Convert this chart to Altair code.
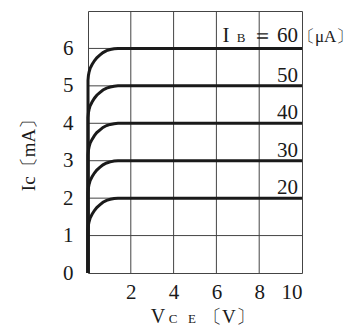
import altair as alt
import pandas as pd

# Curve shape: shared x samples (V_CE) and Ic values per base current
vce = [0, 0, 0.02, 0.05, 0.1, 0.19, 0.3, 0.41, 0.55, 0.7, 0.87, 1.04, 1.22, 1.4, 10]
ic_60 = [0, 5.15, 5.28, 5.37, 5.47, 5.57, 5.67, 5.75, 5.82, 5.89, 5.94, 5.97, 5.99, 6.0, 6.0]
ic_50 = [0, 4.15, 4.28, 4.37, 4.47, 4.57, 4.67, 4.75, 4.82, 4.89, 4.94, 4.97, 4.99, 5.0, 5.0]
ic_40 = [0, 3.15, 3.28, 3.37, 3.47, 3.57, 3.67, 3.75, 3.82, 3.89, 3.94, 3.97, 3.99, 4.0, 4.0]
ic_30 = [0, 2.15, 2.28, 2.37, 2.47, 2.57, 2.67, 2.75, 2.82, 2.89, 2.94, 2.97, 2.99, 3.0, 3.0]
ic_20 = [0, 1.15, 1.28, 1.37, 1.47, 1.57, 1.67, 1.75, 1.82, 1.89, 1.94, 1.97, 1.99, 2.0, 2.0]

ib_values = [60, 50, 40, 30, 20]
ib_levels = [6, 5, 4, 3, 2]
x_ticks = [0, 2, 4, 6, 8, 10]
y_ticks = [0, 1, 2, 3, 4, 5, 6, 7]

rows = []
for ib, ys in zip(ib_values, [ic_60, ic_50, ic_40, ic_30, ic_20]):
    for i, (x, y) in enumerate(zip(vce, ys)):
        rows.append({"ib": ib, "i": i, "vce": x, "ic": y})
curves_df = pd.DataFrame(rows)

SERIF = "Liberation Serif"
INK = "#1a1a1a"
GRID = "#444444"

xscale = alt.Scale(domain=[0, 10], nice=False)
yscale = alt.Scale(domain=[0, 7], nice=False)

x_axis = alt.Axis(values=x_ticks, title=None, grid=False,
                  domain=False, ticks=False, labelFont=SERIF, labelFontSize=21,
                  labelColor=INK, labelPadding=8, labelOverlap=False,
                  labelExpr="datum.value == 0 ? '' : datum.label")
y_axis = alt.Axis(values=y_ticks, title="Ic〔mA〕", grid=False,
                  domain=False, ticks=False, labelFont=SERIF, labelFontSize=21,
                  labelColor=INK, labelPadding=15, labelOverlap=False,
                  labelExpr="datum.value == 7 ? '' : datum.label",
                  titleFont=SERIF, titleFontSize=19, titleFontWeight="normal",
                  titleColor=INK, titleAngle=-90, titleX=-60, titleY=139,
                  titleAlign="center", titleBaseline="middle")

# grid rules (first layer carries the axes)
vgrid = alt.Chart(pd.DataFrame({"x": x_ticks[1:-1]})).mark_rule(color=GRID, strokeWidth=1).encode(
    x=alt.X("x:Q", scale=xscale, axis=x_axis))
hgrid = alt.Chart(pd.DataFrame({"y": y_ticks[1:-1]})).mark_rule(color=GRID, strokeWidth=1).encode(
    y=alt.Y("y:Q", scale=yscale, axis=y_axis))

curves = alt.Chart(curves_df).mark_line(color=INK, strokeWidth=3).encode(
    x=alt.X("vce:Q", scale=xscale, axis=x_axis),
    y=alt.Y("ic:Q", scale=yscale, axis=y_axis),
    detail="ib:N", order="i:Q")

# curve labels 50..20
lab_df = pd.DataFrame({"x": [10] * 4, "y": ib_levels[1:], "t": [str(v) for v in ib_values[1:]]})
labels = alt.Chart(lab_df).mark_text(font=SERIF, fontSize=21, color=INK, align="right",
                                      baseline="alphabetic", dx=-4, dy=-4).encode(
    x=alt.X("x:Q", scale=xscale, axis=x_axis), y=alt.Y("y:Q", scale=yscale, axis=y_axis), text="t:N")

top_y = ib_levels[0]
def tmark(text, dx, dy, size, align="center"):
    d = pd.DataFrame({"x": [10], "y": [top_y], "t": [text]})
    return alt.Chart(d).mark_text(font=SERIF, fontSize=size, color=INK, align=align,
                                  baseline="alphabetic", dx=dx, dy=dy).encode(
        x=alt.X("x:Q", scale=xscale, axis=x_axis), y=alt.Y("y:Q", scale=yscale, axis=y_axis), text="t:N")

t60 = tmark(str(ib_values[0]), -4, -6, 21, "right")
teq = tmark("＝", -40, -6, 21)
tB = tmark("B", -61, -6, 13)
tI = tmark("I", -76, -6, 21)
tunit = tmark("〔μA〕", -4, -6, 17, "left")

def xt(text, dx, size, align="center"):
    d = pd.DataFrame({"x": [5], "y": [0], "t": [text]})
    return alt.Chart(d).mark_text(font=SERIF, fontSize=size, color=INK, align=align,
                                  baseline="alphabetic", dx=dx, dy=50).encode(
        x=alt.X("x:Q", scale=xscale, axis=x_axis), y=alt.Y("y:Q", scale=yscale, axis=y_axis), text="t:N")

xV = xt("V", -37, 20)
xC = xt("C", -22, 13)
xE = xt("E", -3, 13)
xU = xt("〔V〕", 8, 19, "left")

chart = alt.layer(vgrid, hgrid, curves, labels, t60, teq, tB, tI, tunit, xV, xC, xE, xU).properties(
    width=214, height=262,
    autosize=alt.AutoSizeParams(type="none"),
    padding={"left": 80, "top": 3, "right": 52, "bottom": 55},
).configure_view(stroke=GRID, strokeWidth=1)

chart.save("out.html", embed_options={"renderer": "svg", "actions": False})
